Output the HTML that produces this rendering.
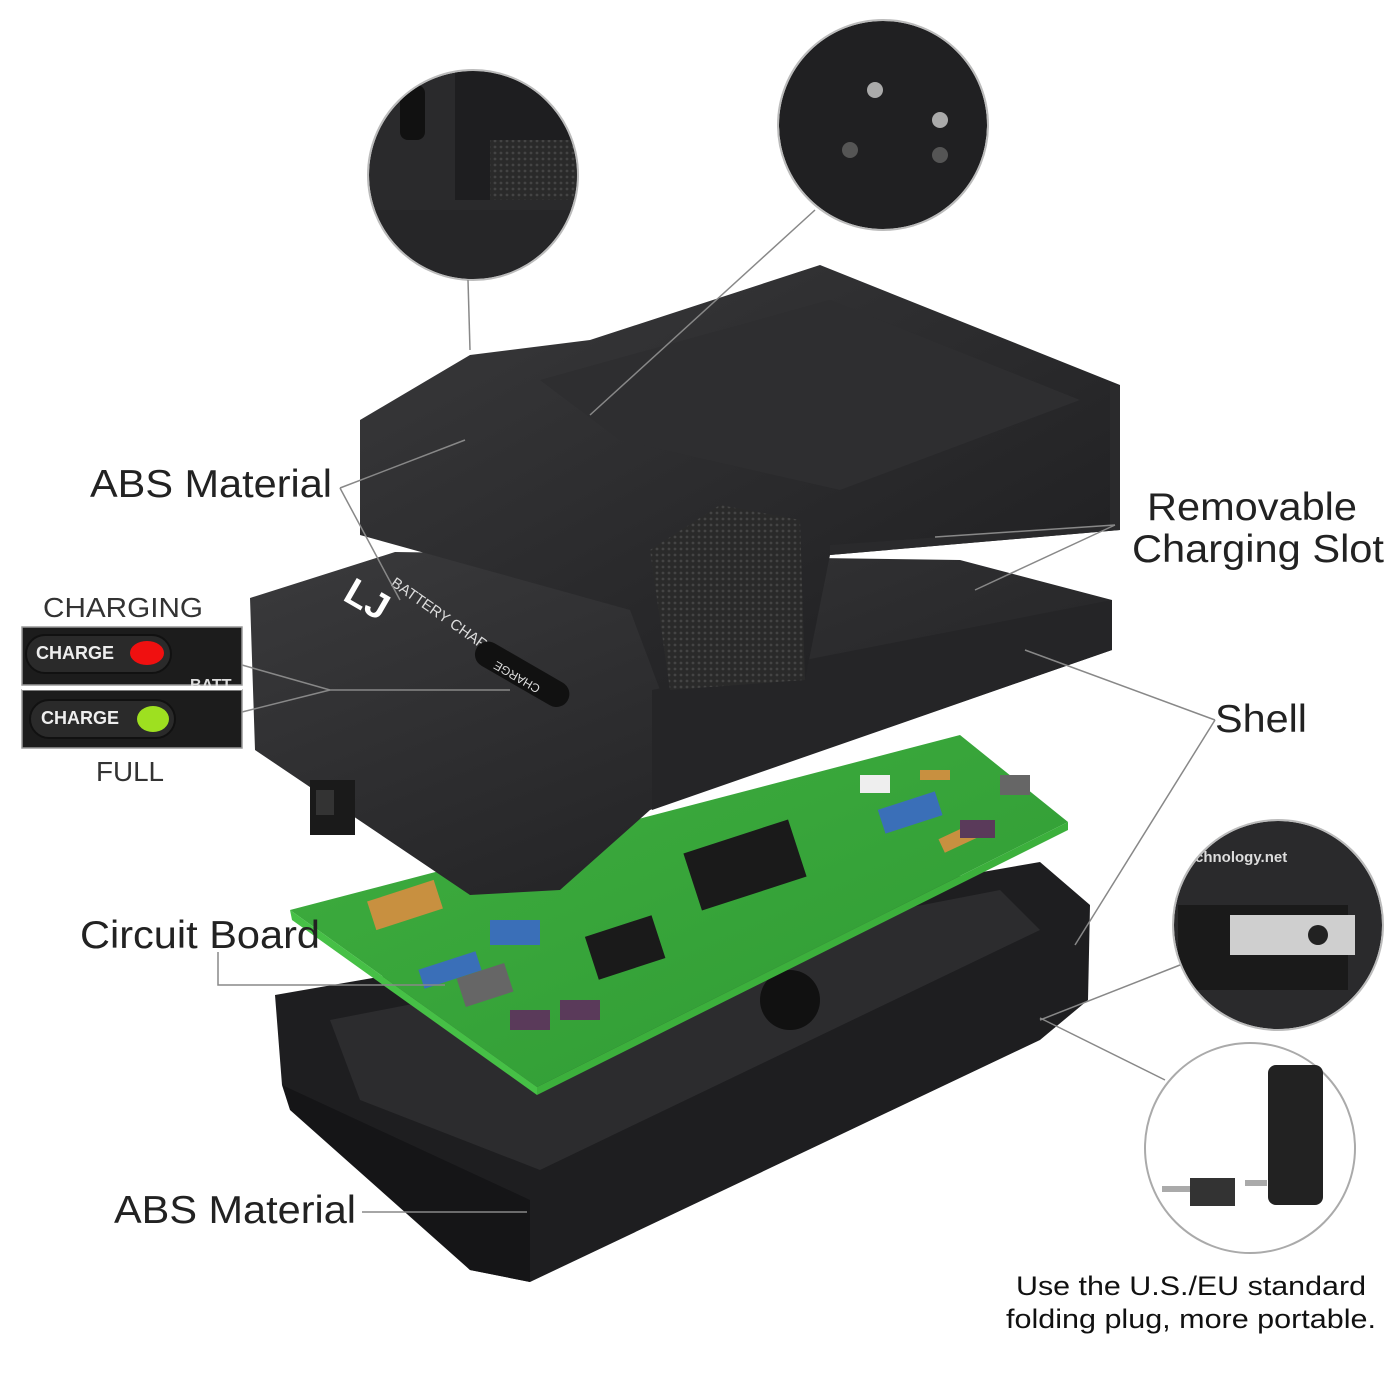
<!DOCTYPE html>
<html><head><meta charset="utf-8"><style>
html,body{margin:0;padding:0;background:#fff}
svg{display:block}
text{font-family:"Liberation Sans",sans-serif}
</style></head><body>
<svg width="1400" height="1400" viewBox="0 0 1400 1400" xmlns="http://www.w3.org/2000/svg">
<defs>
<linearGradient id="dk" x1="0" y1="0" x2="1" y2="1"><stop offset="0" stop-color="#3a3a3c"/><stop offset="1" stop-color="#1c1c1e"/></linearGradient>
<linearGradient id="gr" x1="0" y1="0" x2="1" y2="1"><stop offset="0" stop-color="#3fae3f"/><stop offset="1" stop-color="#2f9a34"/></linearGradient>
<pattern id="dots" width="6" height="6" patternUnits="userSpaceOnUse"><rect width="6" height="6" fill="#2a2a2a"/><circle cx="3" cy="3" r="1.4" fill="#444"/></pattern>
<clipPath id="c1"><circle cx="473" cy="175" r="104"/></clipPath>
<clipPath id="c2"><circle cx="883" cy="125" r="104"/></clipPath>
<clipPath id="c3"><circle cx="1278" cy="925" r="104"/></clipPath>
<clipPath id="c4"><circle cx="1250" cy="1148" r="104"/></clipPath>
</defs>

<!-- bottom case -->
<polygon points="275,995 1040,862 1090,905 1088,1000 1040,1040 530,1282 470,1270 282,1085" fill="#1e1e20"/>
<polygon points="330,1020 1000,890 1040,930 540,1170 360,1100" fill="#2c2c2e"/>
<polygon points="282,1085 530,1200 530,1282 470,1270 290,1110" fill="#151517"/>
<circle cx="790" cy="1000" r="30" fill="#111"/>

<!-- green board -->
<polygon points="290,910 960,735 1068,822 537,1087" fill="url(#gr)"/>
<polygon points="290,910 537,1087 537,1095 292,920" fill="#46c046"/>
<polygon points="537,1087 1068,822 1068,830 537,1095" fill="#3cb03c"/>
<rect x="690" y="835" width="110" height="60" fill="#1a1a1a" transform="rotate(-18 745 865)"/>
<rect x="590" y="925" width="70" height="45" fill="#1a1a1a" transform="rotate(-18 625 947)"/>
<rect x="370" y="890" width="70" height="30" fill="#c89040" transform="rotate(-18 405 905)"/>
<rect x="860" y="775" width="30" height="18" fill="#eee"/>
<g fill="#3a6fb8">
<rect x="880" y="800" width="60" height="25" transform="rotate(-18 910 812)"/>
<rect x="490" y="920" width="50" height="25"/>
<rect x="420" y="960" width="60" height="20" transform="rotate(-18 450 970)"/>
</g>
<g fill="#c89040"><rect x="940" y="830" width="45" height="15" transform="rotate(-25 960 838)"/><rect x="920" y="770" width="30" height="10"/></g>
<g fill="#666"><rect x="460" y="970" width="50" height="30" transform="rotate(-18 485 985)"/><rect x="1000" y="775" width="30" height="20"/></g>
<g fill="#5a3a5a"><rect x="510" y="1010" width="40" height="20"/><rect x="560" y="1000" width="40" height="20"/><rect x="960" y="820" width="35" height="18"/></g>

<!-- middle shell -->
<polygon points="250,598 395,552 960,560 1112,600 1112,650 650,810 560,890 470,895 255,750" fill="url(#dk)"/>
<polygon points="652,690 1112,600 1112,650 652,810" fill="#252527"/>
<rect x="310" y="780" width="45" height="55" fill="#1a1a1a"/>
<rect x="316" y="790" width="18" height="25" fill="#333"/>
<text x="340" y="615" fill="#fff" font-size="38" font-weight="bold" transform="rotate(30 370 610)">LJ</text>
<text x="390" y="585" fill="#ddd" font-size="15" transform="rotate(35 390 585)">BATTERY CHARGER</text>
<rect x="470" y="660" width="105" height="26" rx="13" fill="#111" transform="rotate(30 520 673)"/>
<text x="495" y="672" fill="#ddd" font-size="12" transform="rotate(210 520 673)">CHARGE</text>

<!-- top slot -->
<polygon points="360,420 470,355 590,340 820,265 1120,385 1120,530 830,555 805,680 660,690 630,610 360,535" fill="url(#dk)"/>
<polygon points="540,380 830,300 1080,400 840,490 620,440" fill="#2e2e30"/>
<polygon points="650,550 720,505 800,520 805,680 670,690" fill="url(#dots)"/>
<polygon points="830,555 1120,530 1120,385 1110,385 1110,525 830,545" fill="#2a2a2c"/>

<!-- circles -->
<g clip-path="url(#c1)">
<rect x="360" y="60" width="230" height="230" fill="#2a2a2c"/>
<rect x="400" y="85" width="25" height="55" rx="8" fill="#111"/>
<rect x="455" y="70" width="130" height="130" fill="#1e1e20"/>
<rect x="490" y="140" width="95" height="60" fill="url(#dots)"/>
<rect x="360" y="210" width="230" height="80" fill="#262628"/>
</g>
<circle cx="473" cy="175" r="105" fill="none" stroke="#bbb" stroke-width="2"/>
<g clip-path="url(#c2)">
<rect x="770" y="15" width="230" height="230" fill="#202022"/>
<circle cx="875" cy="90" r="8" fill="#aaa"/><circle cx="940" cy="120" r="8" fill="#aaa"/>
<circle cx="850" cy="150" r="8" fill="#555"/><circle cx="940" cy="155" r="8" fill="#555"/>
</g>
<circle cx="883" cy="125" r="105" fill="none" stroke="#bbb" stroke-width="2"/>
<g clip-path="url(#c3)">
<rect x="1170" y="815" width="220" height="220" fill="#2a2a2c"/>
<rect x="1178" y="905" width="170" height="85" fill="#1a1a1a"/>
<rect x="1230" y="915" width="125" height="40" fill="#cfcfcf"/>
<circle cx="1318" cy="935" r="10" fill="#222"/>
<text x="1195" y="862" fill="#ddd" font-size="15" font-weight="bold">chnology.net</text>
</g>
<circle cx="1278" cy="925" r="105" fill="none" stroke="#bbb" stroke-width="2"/>
<circle cx="1250" cy="1148" r="105" fill="#fff" stroke="#aaa" stroke-width="2"/>
<rect x="1268" y="1065" width="55" height="140" rx="8" fill="#222"/>
<rect x="1190" y="1178" width="45" height="28" fill="#333"/>
<rect x="1162" y="1186" width="28" height="6" fill="#aaa"/>
<rect x="1245" y="1180" width="22" height="6" fill="#aaa"/>

<!-- leader lines -->
<g stroke="#888" stroke-width="1.5" fill="none">
<line x1="468" y1="280" x2="470" y2="350"/>
<line x1="815" y1="210" x2="590" y2="415"/>
<polyline points="340,488 465,440"/>
<polyline points="340,488 400,600"/>
<polyline points="1115,525 935,537"/>
<polyline points="1115,525 975,590"/>
<polyline points="1215,720 1025,650"/>
<polyline points="1215,720 1075,945"/>
<polyline points="218,952 218,985 445,985"/>
<polyline points="362,1212 527,1212"/>
<polyline points="1180,965 1040,1020"/>
<polyline points="1165,1080 1040,1018"/>
<polyline points="242,665 330,690 510,690"/>
<polyline points="242,712 330,690"/>
</g>

<!-- charging boxes -->
<rect x="22" y="627" width="220" height="58" fill="#1c1c1c" stroke="#999" stroke-width="1.5"/>
<rect x="26" y="635" width="145" height="38" rx="19" fill="#2a2a2a" stroke="#111" stroke-width="2"/>
<text x="36" y="659" fill="#eee" font-size="18" font-weight="bold">CHARGE</text>
<ellipse cx="147" cy="653" rx="17" ry="12" fill="#f01010"/>
<text x="190" y="690" fill="#ddd" font-size="16" font-weight="bold">BATT</text>
<rect x="22" y="690" width="220" height="58" fill="#1c1c1c" stroke="#999" stroke-width="1.5"/>
<rect x="30" y="700" width="145" height="38" rx="19" fill="#2a2a2a" stroke="#111" stroke-width="2"/>
<text x="41" y="724" fill="#eee" font-size="18" font-weight="bold">CHARGE</text>
<ellipse cx="153" cy="719" rx="16" ry="13" fill="#9ee020"/>
<rect x="22" y="686" width="220" height="4" fill="#fff"/>

<!-- labels -->
<g fill="#222">
<text x="90" y="497" font-size="39" textLength="242" lengthAdjust="spacingAndGlyphs">ABS Material</text>
<text x="1147" y="520" font-size="39" textLength="210" lengthAdjust="spacingAndGlyphs">Removable</text>
<text x="1132" y="562" font-size="39" textLength="252" lengthAdjust="spacingAndGlyphs">Charging Slot</text>
<text x="1215" y="732" font-size="39" textLength="92" lengthAdjust="spacingAndGlyphs">Shell</text>
<text x="80" y="948" font-size="39" textLength="240" lengthAdjust="spacingAndGlyphs">Circuit Board</text>
<text x="114" y="1223" font-size="39" textLength="242" lengthAdjust="spacingAndGlyphs">ABS Material</text>
<text x="43" y="617" font-size="28" fill="#333" textLength="160" lengthAdjust="spacingAndGlyphs">CHARGING</text>
<text x="96" y="781" font-size="28" fill="#333" textLength="68" lengthAdjust="spacingAndGlyphs">FULL</text>
<text x="1016" y="1295" font-size="27" fill="#111" textLength="350" lengthAdjust="spacingAndGlyphs">Use the U.S./EU standard</text>
<text x="1006" y="1328" font-size="27" fill="#111" textLength="370" lengthAdjust="spacingAndGlyphs">folding plug, more portable.</text>
</g>
</svg>
</body></html>
